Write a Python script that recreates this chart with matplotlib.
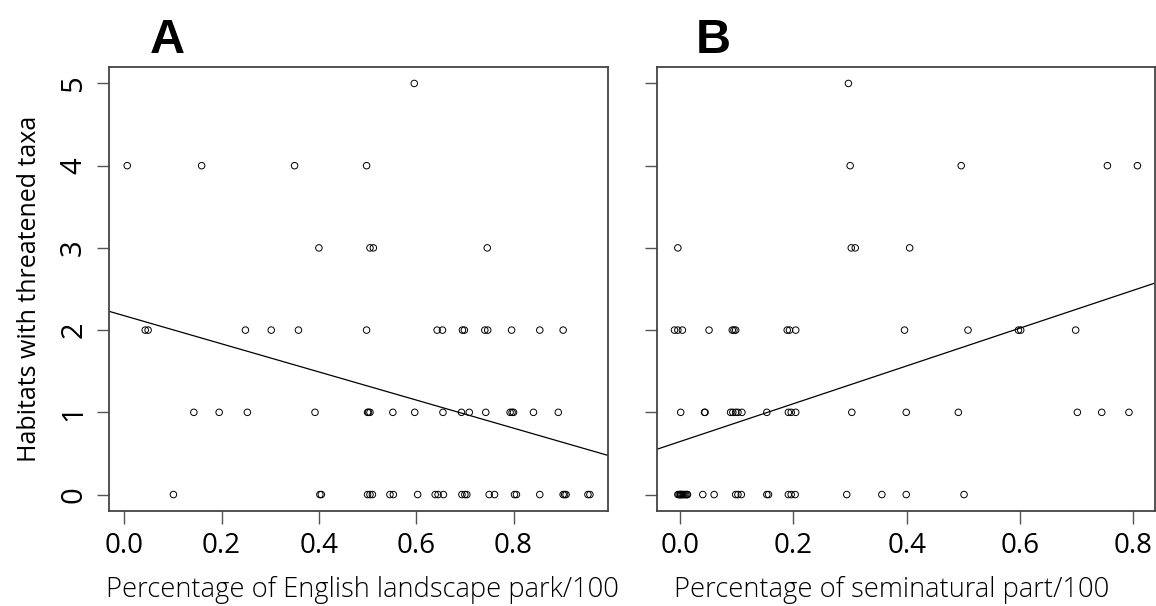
import matplotlib
matplotlib.use("Agg")
import matplotlib.pyplot as plt
import numpy as np

# Habitats with threatened taxa per site, grouped by response value
# Panel A: share of English landscape park
park_y0 = [0.101, 0.402, 0.405, 0.500, 0.505, 0.510, 0.546, 0.553, 0.603, 0.639,
           0.645, 0.656, 0.694, 0.700, 0.704, 0.750, 0.761, 0.802, 0.806, 0.854,
           0.902, 0.905, 0.908, 0.953, 0.957]
park_y1 = [0.143, 0.195, 0.253, 0.392, 0.500, 0.502, 0.505, 0.552, 0.597, 0.655,
           0.693, 0.709, 0.743, 0.793, 0.797, 0.800, 0.841, 0.892]
park_y2 = [0.043, 0.049, 0.249, 0.302, 0.358, 0.498, 0.643, 0.654, 0.695, 0.699,
           0.741, 0.747, 0.796, 0.854, 0.902]
park_y3 = [0.400, 0.505, 0.512, 0.746]
park_y4 = [0.006, 0.159, 0.350, 0.498]
park_y5 = [0.596]

# Panel B: share of seminatural part
semi_y0 = [-0.004, -0.002, 0.000, 0.001, 0.002, 0.004, 0.006, 0.008, 0.010, 0.012,
           0.013, 0.040, 0.060, 0.098, 0.102, 0.108, 0.153, 0.156, 0.191, 0.196,
           0.203, 0.294, 0.356, 0.399, 0.501]
semi_y1 = [0.001, 0.043, 0.044, 0.089, 0.093, 0.098, 0.102, 0.109, 0.153, 0.191,
           0.196, 0.204, 0.303, 0.399, 0.491, 0.701, 0.744, 0.792]
semi_y2 = [-0.010, -0.004, 0.004, 0.051, 0.092, 0.095, 0.098, 0.189, 0.193, 0.204,
           0.396, 0.508, 0.597, 0.601, 0.698]
semi_y3 = [-0.004, 0.302, 0.309, 0.405]
semi_y4 = [0.300, 0.496, 0.754, 0.807]
semi_y5 = [0.297]

# Fitted regression lines (intercept, slope)
park_fit = (2.175, -1.709)
semi_fit = (0.645, 2.30)

x_ticks = [0.0, 0.2, 0.4, 0.6, 0.8]
x_ticklabels = ["0.0", "0.2", "0.4", "0.6", "0.8"]
y_ticks = [0, 1, 2, 3, 4, 5]
y_ticklabels = ["0", "1", "2", "3", "4", "5"]

panel_letters = ["A", "B"]
x_labels = ["Percentage of English landscape park/100",
            "Percentage of seminatural part/100"]
y_label = "Habitats with threatened taxa"


def stack(groups):
    xs, ys = [], []
    for level, vals in enumerate(groups):
        xs.extend(vals)
        ys.extend([level] * len(vals))
    return np.array(xs), np.array(ys)


park_x, park_vals = stack([park_y0, park_y1, park_y2, park_y3, park_y4, park_y5])
semi_x, semi_vals = stack([semi_y0, semi_y1, semi_y2, semi_y3, semi_y4, semi_y5])

W, H = 1156, 606
fig = plt.figure(figsize=(W / 100, H / 100), dpi=100)

ax_a = fig.add_axes([109 / W, 1 - 511 / H, 499 / W, 444 / H])
ax_b = fig.add_axes([656.5 / W, 1 - 511 / H, 498.5 / W, 444 / H])

font = "Open Sans"
spine_col = "#444444"

panels = [
    (ax_a, park_x, park_vals, park_fit, (-0.0314, 0.9942)),
    (ax_b, semi_x, semi_vals, semi_fit, (-0.0417, 0.838)),
]

for i, (ax, xs, ys, fit, xlim) in enumerate(panels):
    ax.scatter(xs, ys, s=22, facecolors="none", edgecolors="black",
               linewidths=0.7, zorder=3)
    ax.axline((0, fit[0]), slope=fit[1], color="black", lw=0.9, zorder=2)
    ax.set_xlim(*xlim)
    ax.set_ylim(-0.2, 5.2)
    ax.set_xticks(x_ticks)
    ax.set_xticklabels(x_ticklabels, fontsize=20, family=font)
    ax.set_yticks(y_ticks)
    if i == 0:
        ax.set_yticklabels(y_ticklabels, fontsize=21, family=font,
                           rotation=90, va="center")
        ax.set_ylabel(y_label, fontsize=18, family=font, labelpad=12)
    else:
        ax.set_yticklabels([])
    ax.tick_params(axis="both", length=9, width=1.0, color="#555555", pad=6)
    for sp in ax.spines.values():
        sp.set_color(spine_col)
        sp.set_linewidth(1.3)

# Axis titles under each panel
label_centres = [362, 892]
for txt, cx in zip(x_labels, label_centres):
    fig.text(cx / W, 1 - 597 / H, txt, fontsize=19.7, family=font,
             weight="light", ha="center", va="baseline")

fig.text(167 / W, 1 - 53 / H, panel_letters[0], fontsize=35, weight="bold",
         family="Liberation Sans", ha="center", va="baseline")
fig.text(713.5 / W, 1 - 53 / H, panel_letters[1], fontsize=35, weight="bold",
         family="Liberation Sans", ha="center", va="baseline")

fig.savefig("out.png", dpi=100)
